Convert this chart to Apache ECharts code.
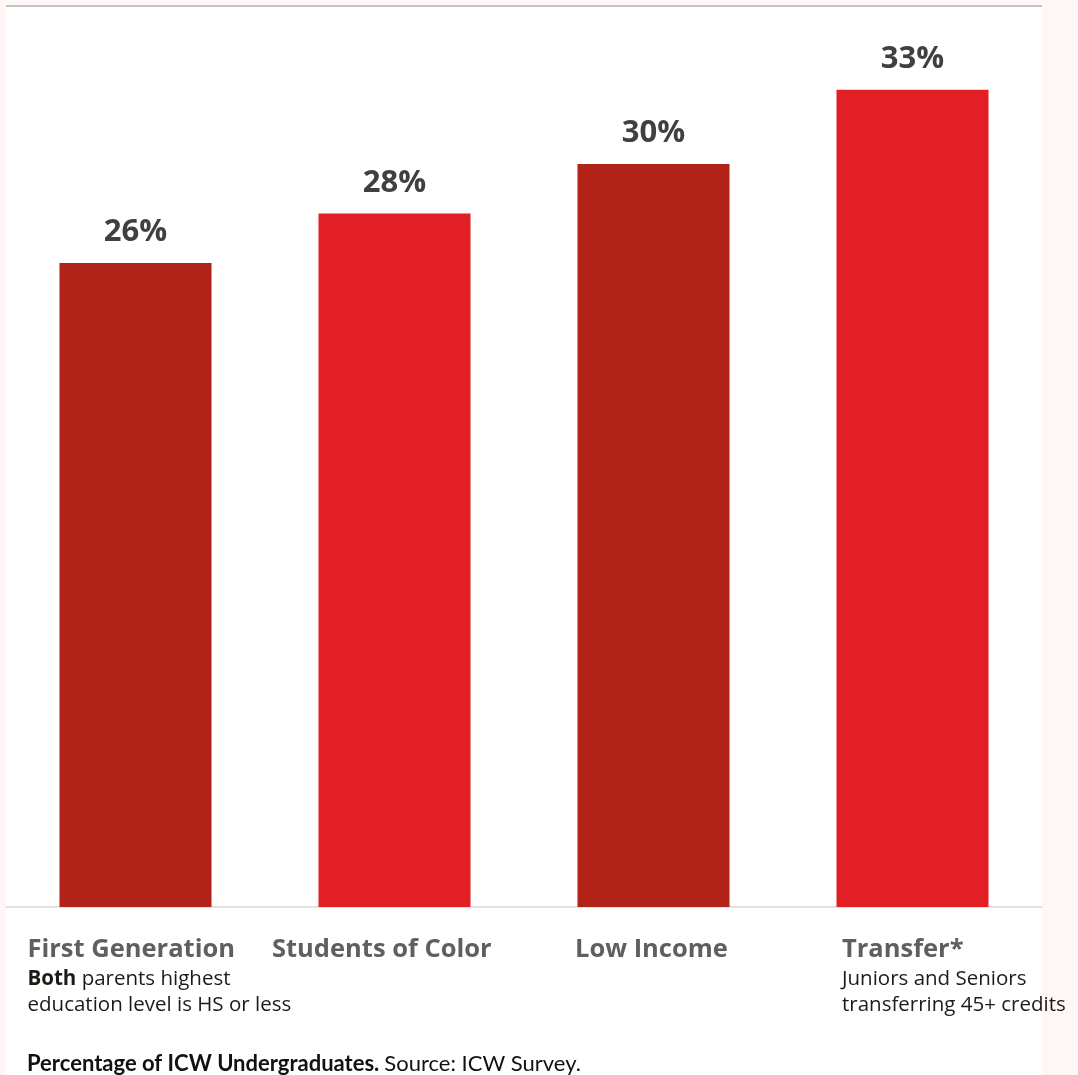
<!DOCTYPE html>
<html><head><meta charset="utf-8">
<script src="https://cdn.jsdelivr.net/npm/echarts@6/dist/echarts.min.js"></script>
<style>
html,body{margin:0;padding:0;background:#fff6f6;}
#panel{position:absolute;left:6px;top:5px;width:1036px;height:1070px;background:#fff;border-top:2px solid #c4c4c4;box-sizing:border-box;}
#chart{position:absolute;left:0;top:0;width:1078px;height:1075px;}
</style></head><body>
<div id="panel"></div><div id="chart"></div>
<script>
const categories = ['First Generation', 'Students of Color', 'Low Income', 'Transfer*'];
const values = [26, 28, 30, 33];
const boldLead = ['Both', '', '', ''];
const notes = [
  ['parents highest', 'education level is HS or less'],
  [],
  [],
  ['Juniors and Seniors', 'transferring 45+ credits']
];
const captionBold = 'Percentage of ICW Undergraduates.';
const captionRest = 'Source: ICW Survey.';

const FONT = '"Open Sans", "Noto Sans", sans-serif';
const CAPFONT = 'Lato, "Open Sans", sans-serif';
const darkRed = '#b12219';
const brightRed = '#e31f26';
const blockW = [216, 245, 157, 141];

const rich = {
  b: {fontFamily: FONT, fontSize: 20.5, fontWeight: 'bold', color: '#1e1a16', align: 'left', lineHeight: 26},
  s: {fontFamily: FONT, fontSize: 20.5, color: '#1e1a16', align: 'left', lineHeight: 26}
};
blockW.forEach(function (w, i) {
  rich['n' + i] = {fontFamily: FONT, fontSize: 25.5, fontWeight: 'bold', color: '#5f5f5f', align: 'left', width: w, lineHeight: 32};
  rich['w' + i] = {fontFamily: FONT, fontSize: 20.5, color: '#1e1a16', align: 'left', width: w, lineHeight: 26};
});

const chart = echarts.init(document.getElementById('chart'), null, {renderer: 'canvas'});
chart.setOption({
  animation: false,
  backgroundColor: 'transparent',
  title: {
    left: 22, top: 1048,
    text: '{a|' + captionBold + '} {r|' + captionRest + '}',
    textStyle: {
      fontWeight: 'normal',
      rich: {
        a: {fontFamily: CAPFONT, fontSize: 22, fontWeight: 'bold', color: '#111'},
        r: {fontFamily: CAPFONT, fontSize: 22, fontWeight: 'normal', color: '#111'}
      }
    }
  },
  grid: {left: 6, right: 36, top: 15.4, bottom: 168, containLabel: false},
  xAxis: {
    type: 'category',
    data: categories,
    axisLine: {show: true, lineStyle: {color: '#d9d9d9', width: 1.5}},
    axisTick: {show: false},
    axisLabel: {
      interval: 0,
      margin: 27,
      align: 'center',
      verticalAlign: 'top',
      formatter: function (value) {
        const i = categories.indexOf(value);
        const lines = ['{n' + i + '|' + value + '}'];
        notes[i].forEach(function (t, j) {
          if (j === 0 && boldLead[i]) {
            lines.push('{b|' + boldLead[i] + '}{s| ' + t + '}');
          } else {
            lines.push('{w' + i + '|' + t + '}');
          }
        });
        return lines.join('\n');
      },
      rich: rich
    }
  },
  yAxis: {
    type: 'value', min: 0, max: 36,
    show: false,
    splitLine: {show: false}
  },
  series: [{
    type: 'bar',
    data: values,
    barWidth: '58.7%',
    itemStyle: {
      color: function (p) { return p.dataIndex % 2 === 0 ? darkRed : brightRed; }
    },
    label: {
      show: true,
      position: 'top',
      distance: 15,
      formatter: '{c}%',
      fontFamily: FONT,
      fontSize: 31,
      fontWeight: 'bold',
      color: '#404040'
    }
  }]
});
</script>
</body></html>
